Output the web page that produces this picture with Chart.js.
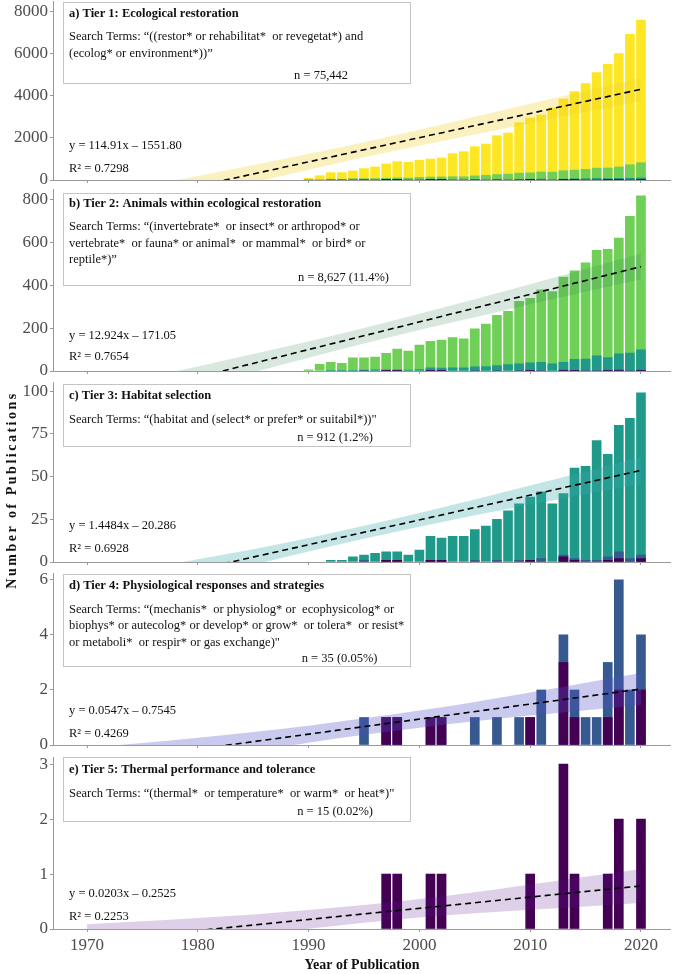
<!DOCTYPE html>
<html>
<head>
<meta charset="utf-8">
<script src="https://cdn.jsdelivr.net/npm/chart.js@4.4.1/dist/chart.umd.min.js"></script>
<style>
  html, body { margin: 0; padding: 0; background: #fff; }
  #wrap { position: relative; width: 674px; height: 974px; }
  #wrap canvas { position: absolute; left: 0; top: 0; }
</style>
</head>
<body>
<div id="wrap">
  <canvas id="tier1" width="674" height="974"></canvas>
  <canvas id="tier2" width="674" height="974"></canvas>
  <canvas id="tier3" width="674" height="974"></canvas>
  <canvas id="tier4" width="674" height="974"></canvas>
  <canvas id="tier5" width="674" height="974"></canvas>
</div>
<script>
// publication counts per year, 1990-2020 (null = no publications that year)
var years = [1990, 1991, 1992, 1993, 1994, 1995, 1996, 1997, 1998, 1999, 2000,
             2001, 2002, 2003, 2004, 2005, 2006, 2007, 2008, 2009, 2010,
             2011, 2012, 2013, 2014, 2015, 2016, 2017, 2018, 2019, 2020];
var tier1 = [80, 205, 350, 350, 430, 540, 620, 760, 870, 840, 934,
             997, 1045, 1250, 1345, 1583, 1710, 2105, 2232, 2723, 2944,
             3087, 3419, 3847, 4195, 4575, 5097, 5493, 6000, 6918, 7598];
var tier2 = [5, 31, 40, 36, 62, 62, 65, 83, 102, 93, 121,
             139, 145, 156, 151, 197, 220, 260, 279, 326, 340,
             380, 372, 439, 469, 506, 564, 569, 622, 724, 820];
var tier3 = [null, null, 1, 1, 3, 4, 5, 6, 6, 4, 7,
             15, 14, 15, 15, 19, 21, 25, 30, 34, 38,
             41, 34, 40, 55, 56, 71, 63, 80, 84, 99];
var tier4 = [null, null, null, null, null, 1, null, 1, 1, null, null,
             1, 1, null, null, 1, null, 1, null, 1, 1,
             2, null, 4, 2, 1, 1, 3, 6, 2, 4];
var tier5 = [null, null, null, null, null, null, null, 1, 1, null, null,
             1, 1, null, null, null, null, null, null, null, 1,
             null, null, 3, 1, null, null, 1, 2, null, 2];

// fitted trend line (end points) and its confidence band
var trendYears = [1970, 2020];
var trend1 = [-1436.9, 4308.6];
var trend2 = [-158.1, 488.1];
var trend3 = [-18.84, 53.58];
var trend4 = [-0.700, 2.035];
var trend5 = [-0.232, 0.783];

var bandYears = [1970, 1975, 1980, 1985, 1990, 1995, 2000, 2005, 2010, 2015, 2020];
var band1Upper = [-787, -302, 192, 707, 1241, 1796, 2390, 3005, 3620, 4234, 4849];
var band1Lower = [-2087, -1422, -768, -133, 481, 1076, 1630, 2165, 2700, 3234, 3769];
var band2Upper = [-92, -35, 21, 79, 138, 201, 268, 336, 406, 477, 548];
var band2Lower = [-224, -151, -79, -7, 62, 129, 192, 252, 312, 371, 428];
var band3Upper = [-10.8, -4.6, 1.65, 7.5, 14.1, 21.2, 28.6, 36.5, 44.7, 52.9, 61.4];
var band3Lower = [-26.8, -18.6, -10.35, -1.7, 6.1, 13.6, 20.6, 27.3, 33.5, 39.7, 45.8];
var band4Upper = [-0.10, 0.074, 0.267, 0.471, 0.704, 0.968, 1.251, 1.565, 1.908, 2.262, 2.615];
var band4Lower = [-1.30, -0.926, -0.573, -0.229, 0.084, 0.368, 0.631, 0.865, 1.068, 1.262, 1.455];
var band5Upper = [0.088, 0.139, 0.201, 0.262, 0.344, 0.435, 0.547, 0.668, 0.81, 0.951, 1.093];
var band5Lower = [-0.552, -0.401, -0.259, -0.118, 0.004, 0.115, 0.207, 0.288, 0.35, 0.411, 0.473];

var xTicks = [1970, 1980, 1990, 2000, 2010, 2020];
var yTicks1 = [0, 2000, 4000, 6000, 8000];
var yTicks2 = [0, 200, 400, 600, 800];
var yTicks3 = [0, 25, 50, 75, 100];
var yTicks4 = [0, 2, 4, 6];
var yTicks5 = [0, 1, 2, 3];

var YELLOW = '#FDE725', GREEN = '#6FCF57', TEAL = '#1F9A8A', BLUE = '#36598F', PURPLE = '#440154';
var SERIF = '"Liberation Serif", "Times New Roman", serif';

function pts(xs, ys) {
    return xs.map(function (x, i) { return { x: x, y: ys[i] }; });
}

// white caption box, equations and axis titles drawn on the canvas
var panelText = {
    id: 'panelText',
    afterDatasetsDraw: function (chart, args, opts) {
        var ctx = chart.ctx;
        ctx.save();
        if (opts.box) {
            var b = opts.box;
            ctx.fillStyle = '#fff';
            ctx.fillRect(b.x, b.y, b.w, b.h);
            ctx.strokeStyle = '#c4c4c4';
            ctx.lineWidth = 1;
            ctx.strokeRect(b.x + 0.5, b.y + 0.5, b.w, b.h);
        }
        (opts.lines || []).forEach(function (l) {
            ctx.save();
            ctx.font = (l.bold ? 'bold ' : '') + (l.size || 12.5) + 'px ' + SERIF;
            ctx.fillStyle = '#111';
            ctx.textAlign = l.align || 'left';
            ctx.textBaseline = 'middle';
            if (l.spacing) ctx.letterSpacing = l.spacing;
            ctx.translate(l.x, l.y);
            if (l.rotate) ctx.rotate(l.rotate);
            ctx.fillText(l.text, 0, 0);
            ctx.restore();
        });
        ctx.restore();
    }
};

function makePanel(id, p) {
    var datasets = [
        { type: 'line', data: pts(trendYears, p.trend), borderColor: '#000', borderWidth: 1.6,
          borderDash: [6, 4], pointRadius: 0, fill: false, order: 0 },
        { type: 'line', data: pts(bandYears, p.bandUp), borderColor: 'transparent', borderWidth: 0,
          pointRadius: 0, backgroundColor: p.bandColor, fill: '+1', cubicInterpolationMode: 'monotone', order: 1 },
        { type: 'line', data: pts(bandYears, p.bandLo), borderColor: 'transparent', borderWidth: 0,
          pointRadius: 0, fill: false, cubicInterpolationMode: 'monotone', order: 1 }
    ];
    p.bars.forEach(function (b, i) {
        datasets.push({ type: 'bar', data: pts(years, b.values), backgroundColor: b.color,
                        barThickness: 9, borderWidth: 0, order: 2 + p.bars.length - i });
    });

    var axisGrid = { display: true, drawOnChartArea: false, drawTicks: true, tickLength: 3, color: '#9a9a9a' };
    var axisBorder = { display: true, color: '#9a9a9a', width: 1 };
    var tickFont = { family: SERIF, size: 17 };
    var xh = p.showX ? 30 : 1;

    return new Chart(document.getElementById(id), {
        type: 'bar',
        data: { datasets: datasets },
        plugins: [panelText],
        options: {
            responsive: false,
            animation: false,
            devicePixelRatio: 1,
            events: [],
            layout: { padding: { top: p.top, bottom: 974 - p.bottom - xh, left: 0, right: 4 } },
            scales: {
                x: {
                    type: 'linear', min: 1966.93, max: 2022.62, stacked: true, offset: false,
                    grid: Object.assign({ offset: false }, axisGrid), border: axisBorder,
                    ticks: { display: p.showX, font: tickFont, color: '#4D4D4D', padding: 3,
                             maxRotation: 0, autoSkip: false, callback: function (v) { return String(v); } },
                    afterBuildTicks: function (s) { s.ticks = xTicks.map(function (v) { return { value: v }; }); },
                    afterFit: function (s) { s.height = xh; s.paddingLeft = 0; s.paddingRight = 0; }
                },
                y: {
                    type: 'linear', min: 0, max: p.yMax, stacked: false,
                    grid: axisGrid, border: axisBorder,
                    ticks: { font: tickFont, color: '#4D4D4D', padding: 2, autoSkip: false,
                             callback: function (v) { return String(v); } },
                    afterBuildTicks: function (s) { s.ticks = p.yTicks.map(function (v) { return { value: v }; }); },
                    afterFit: function (s) { s.width = 53; s.paddingTop = 0; s.paddingBottom = 0; }
                }
            },
            plugins: {
                legend: { display: false },
                tooltip: { enabled: false },
                panelText: { box: p.box, lines: p.lines }
            }
        }
    });
}

makePanel('tier1', {
    top: 1, bottom: 180, yMax: 8500, yTicks: yTicks1, showX: false,
    trend: trend1, bandUp: band1Upper, bandLo: band1Lower, bandColor: 'rgba(240, 210, 40, 0.3)',
    bars: [{ values: tier1, color: YELLOW }, { values: tier2, color: GREEN }, { values: tier3, color: TEAL },
           { values: tier4, color: BLUE }, { values: tier5, color: PURPLE }],
    box: { x: 63, y: 2, w: 347, h: 81 },
    lines: [
        { text: 'a) Tier 1: Ecological restoration', x: 69, y: 14, bold: true },
        { text: 'Search Terms: \u201c((restor* or rehabilitat*  or revegetat*) and', x: 69, y: 36.7 },
        { text: '(ecolog* or environment*))\u201d', x: 69, y: 53.3 },
        { text: 'n = 75,442', x: 348, y: 76, align: 'right' },
        { text: 'y = 114.91x \u2013 1551.80', x: 69, y: 145.7 },
        { text: 'R\u00b2 = 0.7298', x: 69, y: 169 }
    ]
});

makePanel('tier2', {
    top: 189.3, bottom: 371, yMax: 850, yTicks: yTicks2, showX: false,
    trend: trend2, bandUp: band2Upper, bandLo: band2Lower, bandColor: 'rgba(60, 140, 90, 0.2)',
    bars: [{ values: tier2, color: GREEN }, { values: tier3, color: TEAL },
           { values: tier4, color: BLUE }, { values: tier5, color: PURPLE }],
    box: { x: 63, y: 193, w: 347, h: 92 },
    lines: [
        { text: 'b) Tier 2: Animals within ecological restoration', x: 69, y: 204, bold: true },
        { text: 'Search Terms: \u201c(invertebrate*  or insect* or arthropod* or', x: 69, y: 226.7 },
        { text: 'vertebrate*  or fauna* or animal*  or mammal*  or bird* or', x: 69, y: 243.3 },
        { text: 'reptile*)\u201d', x: 69, y: 260 },
        { text: 'n = 8,627 (11.4%)', x: 389, y: 277.3, align: 'right' },
        { text: 'y = 12.924x \u2013 171.05', x: 69, y: 335.7 },
        { text: 'R\u00b2 = 0.7654', x: 69, y: 356.7 }
    ]
});

makePanel('tier3', {
    top: 382.5, bottom: 562, yMax: 105, yTicks: yTicks3, showX: false,
    trend: trend3, bandUp: band3Upper, bandLo: band3Lower, bandColor: 'rgba(60, 170, 170, 0.3)',
    bars: [{ values: tier3, color: TEAL }, { values: tier4, color: BLUE }, { values: tier5, color: PURPLE }],
    box: { x: 63, y: 384, w: 347, h: 62 },
    lines: [
        { text: 'c) Tier 3: Habitat selection', x: 69, y: 395.7, bold: true },
        { text: 'Search Terms: \u201c(habitat and (select* or prefer* or suitabil*))"', x: 69, y: 419.3 },
        { text: 'n = 912 (1.2%)', x: 373, y: 437.3, align: 'right' },
        { text: 'y = 1.4484x \u2013 20.286', x: 69, y: 525.7 },
        { text: 'R\u00b2 = 0.6928', x: 69, y: 549 }
    ]
});

makePanel('tier4', {
    top: 573, bottom: 745, yMax: 6.25, yTicks: yTicks4, showX: false,
    trend: trend4, bandUp: band4Upper, bandLo: band4Lower, bandColor: 'rgba(80, 80, 200, 0.3)',
    bars: [{ values: tier4, color: BLUE }, { values: tier5, color: PURPLE }],
    box: { x: 63, y: 574, w: 347, h: 92 },
    lines: [
        { text: 'd) Tier 4: Physiological responses and strategies', x: 69, y: 585.7, bold: true },
        { text: 'Search Terms: \u201c(mechanis*  or physiolog* or  ecophysicolog* or', x: 69, y: 609.3 },
        { text: 'biophys* or autecolog* or develop* or grow*  or tolera*  or resist*', x: 69, y: 626 },
        { text: 'or metaboli*  or respir* or gas exchange)"', x: 69, y: 642.3 },
        { text: 'n = 35 (0.05%)', x: 377.5, y: 659, align: 'right' },
        { text: 'y = 0.0547x \u2013 0.7545', x: 69, y: 710.7 },
        { text: 'R\u00b2 = 0.4269', x: 69, y: 733.3 }
    ]
});

makePanel('tier5', {
    top: 757, bottom: 929, yMax: 3.13, yTicks: yTicks5, showX: true,
    trend: trend5, bandUp: band5Upper, bandLo: band5Lower, bandColor: 'rgba(90, 20, 140, 0.2)',
    bars: [{ values: tier5, color: PURPLE }],
    box: { x: 63, y: 757, w: 347, h: 64 },
    lines: [
        { text: 'e) Tier 5: Thermal performance and tolerance', x: 69, y: 769.3, bold: true },
        { text: 'Search Terms: \u201c(thermal*  or temperature*  or warm*  or heat*)"', x: 69, y: 793.3 },
        { text: 'n = 15 (0.02%)', x: 373, y: 811.7, align: 'right' },
        { text: 'y = 0.0203x \u2013 0.2525', x: 69, y: 894 },
        { text: 'R\u00b2 = 0.2253', x: 69, y: 916.7 },
        { text: 'Year of Publication', x: 362, y: 965, bold: true, size: 14, align: 'center' },
        { text: 'Number of Publications', x: 12, y: 490, bold: true, size: 14, align: 'center',
          rotate: -Math.PI / 2, spacing: '2.5px' }
    ]
});
</script>
</body>
</html>
